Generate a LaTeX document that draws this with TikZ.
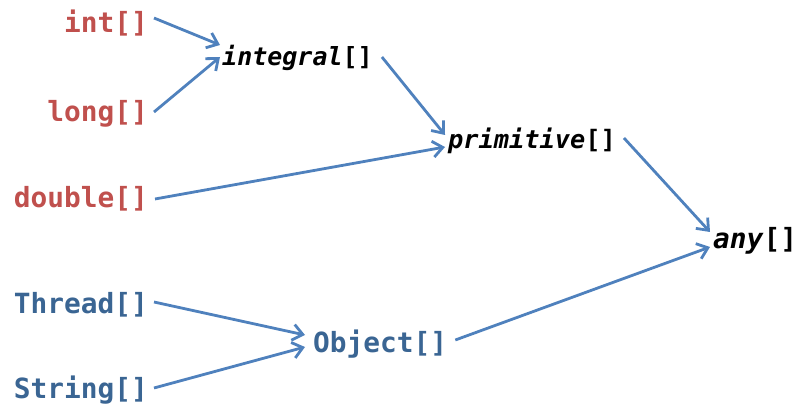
\documentclass[tikz,border=0pt]{standalone}
\usepackage{fontspec}
\setmonofont{DejaVu Sans Mono}
\usetikzlibrary{arrows.meta}
\definecolor{tred}{HTML}{C0504D}
\definecolor{tblue}{HTML}{3A6593}
\definecolor{arr}{HTML}{4F81BD}
\begin{document}
\begin{tikzpicture}[x=1pt,y=-1pt,
  lbl/.style={inner sep=0pt,font=\ttfamily\bfseries\fontsize{27.8}{30}\selectfont},
  redlbl/.style={lbl,text=tred,anchor=east},
  bluelbl/.style={lbl,text=tblue},
  itlbl/.style={lbl,text=black,anchor=west},
  conn/.style={draw=arr,line width=2.8pt,-{Straight Barb[length=10pt,width=16pt,line width=2.8pt]}}]
\path[use as bounding box] (0,0) rectangle (798,406);
\node[redlbl] (int) at (148,23) {int[]};
\node[redlbl] (long) at (148,114) {long[]};
\node[redlbl] (double) at (148,199) {double[]};
\node[bluelbl,anchor=east] (thread) at (148,305) {Thread[]};
\node[bluelbl,anchor=east] (string) at (148,390) {String[]};
\node[bluelbl,anchor=west] (object) at (313,344) {Object[]};
\node[itlbl,font=\ttfamily\bfseries\fontsize{25}{28}\selectfont] (integral) at (222,58) {\textit{integral}[]};
\node[itlbl,font=\ttfamily\bfseries\fontsize{25.3}{28}\selectfont] (primitive) at (448,141) {\textit{primitive}[]};
\node[itlbl] (any) at (713,241) {\textit{any}[]};
\draw[conn] ([shift={(6pt,5pt)}]int.east) -- ([shift={(-2pt,13pt)}]integral.west);
\draw[conn] ([shift={(6pt,2pt)}]long.east) -- ([shift={(-2pt,1pt)}]integral.west);
\draw[conn] ([shift={(9pt,1pt)}]integral.east) -- ([shift={(-3pt,6pt)}]primitive.west);
\draw[conn] ([shift={(7pt,0pt)}]double.east) -- ([shift={(-3pt,-6pt)}]primitive.west);
\draw[conn] ([shift={(8pt,3pt)}]primitive.east) -- ([shift={(-3pt,9pt)}]any.west);
\draw[conn] ([shift={(6pt,3pt)}]thread.east) -- ([shift={(-8pt,9pt)}]object.west);
\draw[conn] ([shift={(6pt,2pt)}]string.east) -- ([shift={(-8pt,-3pt)}]object.west);
\draw[conn] ([shift={(8pt,4pt)}]object.east) -- ([shift={(-3pt,-6pt)}]any.west);
\end{tikzpicture}
\end{document}
